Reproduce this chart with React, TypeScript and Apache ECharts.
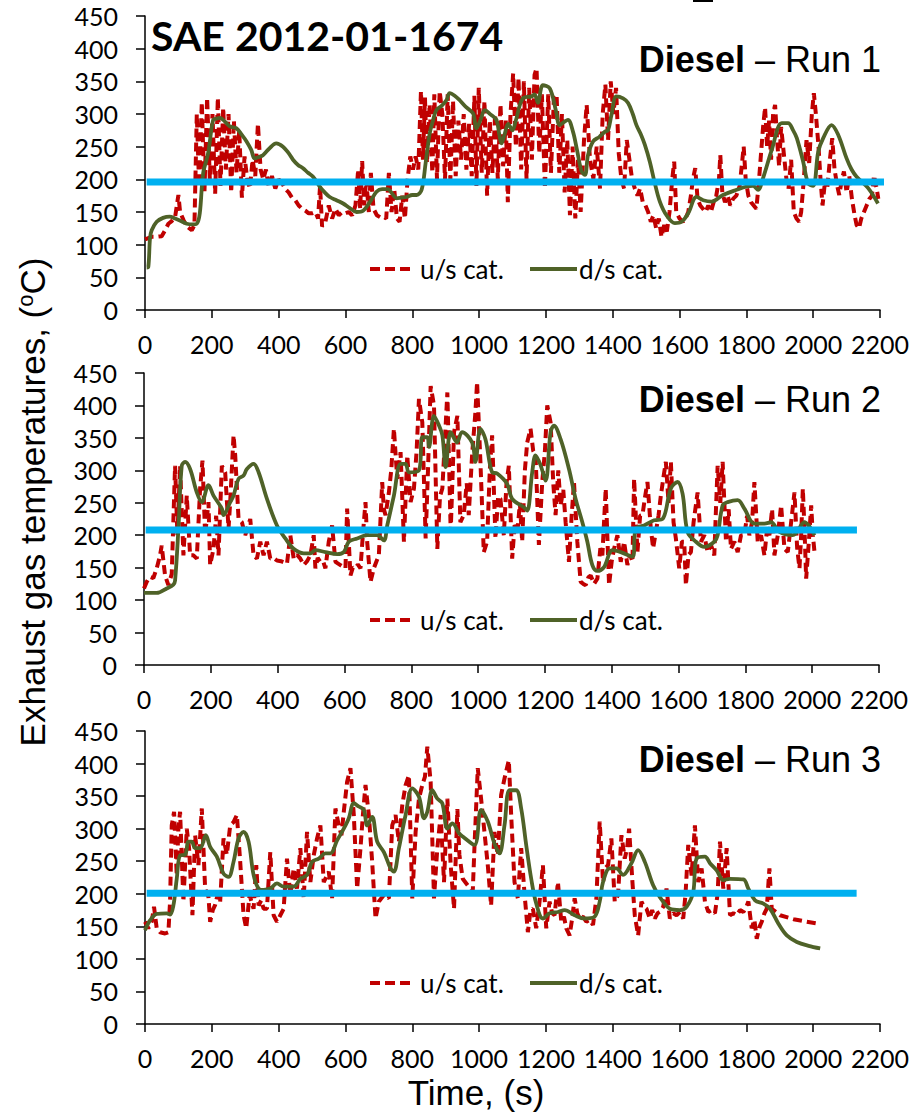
import React, { useEffect, useRef } from "react";
import * as echarts from "echarts";

// ---------- data (time s, temperature °C) ----------
const run1Upstream: [number, number][] = [[0,108],[10,110],[20,112],[35,112],[50,113],[60,122],[70,132],[80,136],[90,142],[100,176],[105,150],[115,138],[125,128],[140,122],[148,130],[155,300],[162,190],[170,318],[178,182],[186,325],[194,200],[202,300],[210,178],[218,325],[226,190],[234,310],[242,215],[250,300],[258,180],[266,290],[274,210],[282,275],[290,172],[298,235],[306,200],[314,186],[322,230],[330,205],[338,285],[346,215],[354,200],[362,215],[370,190],[380,205],[390,186],[400,200],[410,195],[420,185],[430,180],[440,172],[450,168],[460,160],[470,155],[480,152],[490,148],[500,148],[510,150],[518,140],[524,190],[530,128],[540,135],[550,160],[560,140],[570,155],[580,145],[590,150],[600,148],[610,150],[620,145],[630,160],[638,215],[644,155],[650,228],[656,160],[662,200],[670,150],[676,210],[684,155],[694,145],[704,142],[714,143],[722,140],[730,210],[738,150],[746,185],[754,140],[762,135],[770,175],[778,140],[786,200],[794,235],[802,215],[810,235],[818,215],[826,335],[832,230],[838,325],[844,225],[852,315],[860,210],[866,330],[874,200],[882,335],[890,300],[898,200],[906,330],[914,199],[922,320],[930,205],[938,290],[946,230],[954,300],[962,215],[970,285],[978,205],[986,328],[992,190],[999,340],[1008,210],[1016,320],[1024,175],[1032,290],[1040,210],[1048,300],[1056,200],[1064,315],[1072,220],[1080,290],[1086,165],[1094,300],[1102,362],[1110,250],[1118,355],[1126,215],[1134,350],[1142,200],[1150,340],[1158,230],[1166,360],[1172,370],[1180,240],[1188,330],[1197,186],[1207,330],[1215,210],[1224,325],[1232,330],[1240,210],[1248,300],[1256,180],[1264,260],[1272,145],[1280,250],[1288,140],[1296,230],[1304,150],[1314,260],[1322,314],[1332,230],[1342,201],[1352,250],[1362,186],[1370,300],[1378,345],[1386,260],[1394,350],[1402,300],[1410,340],[1418,240],[1426,200],[1434,186],[1442,260],[1450,230],[1458,200],[1466,186],[1474,175],[1482,186],[1490,165],[1498,160],[1506,150],[1514,135],[1522,145],[1530,125],[1538,140],[1546,112],[1554,130],[1562,120],[1570,150],[1578,200],[1584,227],[1590,150],[1600,140],[1610,135],[1618,140],[1626,150],[1634,175],[1640,200],[1647,217],[1654,170],[1662,160],[1670,155],[1678,150],[1686,160],[1694,150],[1702,165],[1710,175],[1718,200],[1722,237],[1728,180],[1736,165],[1744,175],[1752,160],[1760,170],[1770,175],[1780,190],[1788,230],[1792,250],[1798,200],[1806,175],[1814,165],[1822,160],[1830,155],[1838,200],[1844,240],[1850,280],[1856,310],[1862,250],[1868,290],[1874,230],[1880,300],[1886,314],[1892,260],[1898,220],[1904,280],[1912,240],[1920,200],[1926,185],[1934,230],[1942,150],[1950,140],[1958,135],[1964,150],[1972,200],[1980,260],[1988,225],[1996,300],[2002,332],[2008,300],[2016,250],[2022,200],[2028,160],[2034,190],[2042,186],[2050,230],[2057,263],[2064,215],[2072,190],[2078,176],[2086,200],[2092,212],[2100,180],[2108,205],[2116,170],[2124,145],[2130,130],[2137,125],[2144,140],[2152,150],[2160,160],[2168,170],[2176,175],[2182,206],[2190,186],[2195,170]];

const run1Downstream: [number, number][] = [[5,65],[10,66],[15,110],[20,122],[35,135],[54,141],[74,143],[90,140],[109,136],[125,132],[143,131],[155,132],[164,148],[174,209],[189,240],[204,291],[214,293],[224,294],[234,291],[254,281],[274,278],[290,268],[304,258],[318,245],[328,232],[340,234],[353,237],[370,246],[393,255],[413,250],[430,240],[443,230],[458,222],[473,217],[488,210],[503,204],[523,189],[538,180],[553,173],[573,168],[593,163],[613,156],[633,150],[653,152],[673,165],[693,181],[710,185],[727,185],[740,178],[753,171],[768,172],[783,173],[800,176],[813,176],[828,184],[840,225],[852,270],[862,290],[872,306],[887,312],[902,321],[912,332],[927,328],[942,321],[962,310],[982,301],[992,278],[1005,292],[1017,306],[1035,299],[1052,291],[1060,270],[1067,255],[1077,270],[1087,285],[1100,275],[1110,290],[1131,324],[1157,327],[1166,330],[1176,317],[1191,344],[1212,339],[1230,305],[1241,283],[1255,288],[1266,291],[1281,273],[1293,245],[1307,212],[1317,207],[1326,237],[1341,258],[1360,265],[1377,273],[1386,275],[1396,298],[1411,327],[1431,324],[1446,317],[1460,300],[1471,283],[1485,268],[1496,253],[1511,227],[1526,194],[1541,166],[1561,145],[1586,133],[1606,135],[1626,148],[1651,173],[1671,168],[1696,166],[1730,176],[1771,184],[1801,189],[1820,190],[1835,184],[1850,202],[1876,245],[1906,286],[1925,286],[1940,275],[1951,263],[1970,227],[1985,194],[2000,190],[2015,242],[2030,263],[2055,283],[2075,268],[2100,232],[2115,215],[2130,204],[2164,187],[2194,163]];

const run2Upstream: [number, number][] = [[0,118],[8,128],[18,136],[28,134],[38,149],[48,169],[53,184],[63,138],[73,123],[83,140],[93,307],[100,200],[108,307],[118,169],[128,261],[138,169],[148,169],[158,164],[168,272],[175,315],[183,200],[193,251],[198,154],[208,179],[216,230],[223,169],[233,307],[243,297],[253,210],[258,251],[268,354],[273,323],[283,225],[293,220],[303,200],[318,225],[328,169],[338,164],[348,190],[358,169],[368,190],[378,164],[388,165],[398,161],[410,160],[420,158],[428,156],[438,200],[448,164],[458,170],[468,164],[478,154],[488,160],[498,169],[508,200],[513,149],[520,165],[528,159],[536,160],[543,149],[553,190],[563,215],[573,159],[588,154],[603,149],[608,241],[618,138],[625,150],[633,149],[640,155],[648,149],[655,200],[663,251],[668,190],[678,128],[688,149],[696,160],[703,169],[713,282],[718,240],[723,231],[733,266],[740,300],[748,364],[758,287],[768,328],[778,190],[788,323],[798,251],[808,272],[816,330],[823,410],[833,374],[843,195],[850,300],[858,430],[868,400],[878,179],[886,260],[893,272],[900,340],[908,420],[918,205],[928,359],[938,384],[947,220],[957,231],[966,280],[972,231],[982,323],[992,390],[997,436],[1007,313],[1017,174],[1027,190],[1035,300],[1042,354],[1052,195],[1060,260],[1067,256],[1077,200],[1085,280],[1092,307],[1102,164],[1110,220],[1117,200],[1125,250],[1132,190],[1140,300],[1147,343],[1157,364],[1165,330],[1172,323],[1182,185],[1192,282],[1200,330],[1207,400],[1217,374],[1225,280],[1232,231],[1240,300],[1247,246],[1255,270],[1262,220],[1272,159],[1280,230],[1287,282],[1297,190],[1307,128],[1315,125],[1322,123],[1330,135],[1337,138],[1347,125],[1357,133],[1366,180],[1372,169],[1382,272],[1392,123],[1400,160],[1407,179],[1417,200],[1427,159],[1437,190],[1447,154],[1455,170],[1462,159],[1467,287],[1477,174],[1485,230],[1492,231],[1500,260],[1507,282],[1517,210],[1524,180],[1532,205],[1540,230],[1547,261],[1555,290],[1562,313],[1570,250],[1577,313],[1585,220],[1592,195],[1602,149],[1610,190],[1617,190],[1622,123],[1630,170],[1637,174],[1645,220],[1657,266],[1667,190],[1677,200],[1687,174],[1697,185],[1707,169],[1712,240],[1717,307],[1725,250],[1732,313],[1742,190],[1750,240],[1757,179],[1767,190],[1777,174],[1787,200],[1797,200],[1805,230],[1812,200],[1820,220],[1827,282],[1837,190],[1847,200],[1857,169],[1865,210],[1872,200],[1880,240],[1887,169],[1897,200],[1907,246],[1917,179],[1927,174],[1937,220],[1947,266],[1955,180],[1962,149],[1967,200],[1972,272],[1977,210],[1982,133],[1990,190],[1997,246],[2002,200],[2007,174]];

const run2Downstream: [number, number][] = [[0,111],[38,111],[68,118],[88,124],[93,130],[103,210],[113,307],[123,313],[138,302],[158,266],[173,251],[193,277],[208,261],[233,241],[238,231],[258,251],[268,261],[283,287],[298,292],[308,302],[328,310],[343,297],[368,256],[398,215],[423,195],[448,179],[478,172],[498,172],[513,177],[543,174],[578,171],[598,174],[613,190],[638,195],[668,200],[698,200],[718,192],[728,215],[748,261],[768,310],[783,310],[793,297],[823,300],[833,351],[848,351],[853,336],[868,384],[883,369],[893,354],[903,305],[918,359],[937,343],[952,359],[982,343],[992,313],[1007,364],[1022,348],[1042,297],[1057,295],[1087,279],[1102,256],[1137,243],[1147,238],[1162,297],[1172,323],[1187,308],[1202,284],[1217,359],[1227,369],[1247,348],[1272,302],[1292,256],[1312,220],[1327,190],[1342,154],[1357,145],[1377,151],[1402,177],[1427,174],[1462,167],[1472,210],[1497,215],[1527,223],[1552,225],[1577,272],[1597,282],[1612,264],[1627,205],[1652,190],[1677,182],[1707,190],[1717,200],[1732,246],[1747,251],[1777,254],[1797,241],[1827,218],[1857,218],[1877,220],[1902,205],[1942,200],[1977,220],[2007,200]];

const run3Upstream: [number, number][] = [[0,157],[10,147],[20,157],[27,180],[35,147],[45,141],[60,139],[70,141],[75,188],[80,305],[87,326],[95,228],[100,300],[105,326],[115,188],[125,300],[132,270],[142,167],[150,290],[160,244],[170,331],[180,208],[190,195],[195,157],[203,175],[210,183],[218,200],[225,188],[235,285],[245,260],[255,305],[265,310],[275,321],[285,249],[295,167],[303,147],[313,198],[325,177],[333,244],[340,182],[348,190],[355,177],[365,177],[375,264],[385,167],[395,157],[405,167],[415,177],[425,254],[435,198],[445,239],[455,208],[465,270],[475,193],[485,295],[495,218],[505,259],[515,285],[525,305],[535,218],[550,234],[560,193],[570,331],[580,305],[588,290],[595,326],[605,372],[615,393],[625,321],[635,208],[645,270],[652,320],[660,367],[670,321],[680,249],[690,162],[700,188],[715,198],[730,193],[740,305],[750,321],[760,280],[770,336],[780,367],[790,382],[800,193],[810,295],[820,346],[830,367],[838,380],[845,426],[855,372],[865,193],[875,270],[885,321],[895,218],[905,346],[915,244],[925,177],[935,330],[941,260],[951,223],[966,213],[981,203],[986,270],[996,393],[1006,346],[1016,295],[1026,244],[1036,182],[1046,295],[1056,259],[1066,352],[1076,377],[1089,405],[1096,321],[1106,218],[1116,193],[1126,270],[1136,200],[1146,141],[1154,175],[1161,177],[1171,147],[1181,188],[1191,244],[1201,147],[1211,188],[1219,170],[1226,167],[1236,218],[1246,157],[1254,165],[1261,147],[1271,136],[1278,160],[1286,193],[1294,170],[1301,162],[1311,165],[1321,157],[1331,160],[1341,152],[1351,193],[1361,311],[1371,218],[1379,240],[1386,244],[1396,285],[1406,188],[1416,198],[1426,290],[1436,254],[1443,270],[1449,300],[1459,218],[1466,167],[1476,136],[1486,188],[1494,180],[1501,177],[1511,162],[1518,175],[1526,162],[1534,170],[1541,172],[1551,180],[1561,208],[1571,162],[1581,170],[1591,167],[1601,172],[1611,162],[1618,200],[1626,275],[1636,228],[1646,305],[1656,218],[1666,239],[1676,188],[1686,172],[1696,175],[1706,170],[1714,200],[1721,280],[1731,208],[1741,270],[1751,167],[1761,170],[1771,167],[1781,175],[1791,172],[1800,180],[1806,188],[1816,147],[1824,160],[1831,131],[1840,150],[1846,157],[1854,170],[1861,177],[1869,239],[1876,177],[1901,167],[1941,161],[1981,157],[2016,154]];

const run3Downstream: [number, number][] = [[0,144],[15,159],[35,169],[65,170],[75,168],[85,182],[95,223],[105,259],[120,260],[130,280],[140,280],[150,270],[165,270],[182,290],[195,272],[215,257],[235,231],[250,226],[265,249],[280,285],[295,295],[310,280],[325,229],[340,208],[355,206],[375,208],[395,216],[415,211],[445,211],[465,223],[485,229],[500,249],[520,254],[540,262],[555,262],[575,282],[595,300],[610,316],[625,339],[640,334],[655,329],[665,305],[680,318],[695,280],[715,264],[735,239],[745,234],[760,270],[780,321],[800,362],[820,349],[835,316],[845,326],[860,359],[875,346],[890,339],[905,300],[920,308],[940,293],[951,288],[986,275],[1006,329],[1026,311],[1046,277],[1061,262],[1076,305],[1091,359],[1111,359],[1126,331],[1141,275],[1156,223],[1171,185],[1191,162],[1211,170],[1236,172],[1256,175],[1286,167],[1316,162],[1346,165],[1361,188],[1371,218],[1391,239],[1411,239],[1431,229],[1456,247],[1476,267],[1496,249],[1521,213],[1541,195],[1571,177],[1601,175],[1621,180],[1641,203],[1651,254],[1676,257],[1691,247],[1711,236],[1731,221],[1751,223],[1791,222],[1806,208],[1826,190],[1851,185],[1871,177],[1896,154],[1921,136],[1951,126],[1986,120],[2021,116]];

// threshold bars: start time, end time, level
const thresholdStart = [5, 5, 5];
const thresholdEnd = [2266, 2134, 2130];
const thresholdLevel = [196, 208, 201];

const runNames = ["Run 1", "Run 2", "Run 3"];
const legendNames = ["u/s cat.", "d/s cat."];
const xMin = 0, xMax = 2200, xStep = 200;
const yMin = 0, yMax = 450, yStep = 50;

const upstream = [run1Upstream, run2Upstream, run3Upstream];
const downstream = [run1Downstream, run2Downstream, run3Downstream];

// ---------- layout ----------
const grids = [
  { left: 145, top: 16, width: 735, height: 294 },
  { left: 144, top: 373, width: 735, height: 292 },
  { left: 145, top: 731, width: 735, height: 293 },
];
const legendY = [269, 620, 983];
const runLabelY = [70, 410, 770];

const RED = "#C00000";
const GREEN = "#4F6228";
const BLUE = "#00B0F0";
const TICK_FONT = "Lato";
const ARIAL = "'Liberation Sans', Arial, sans-serif";

export default function App() {
  const ref = useRef<HTMLDivElement>(null);
  useEffect(() => {
    if (!ref.current) return;
    const chart = echarts.init(ref.current, null, { renderer: "svg" });

    const xAxes = grids.map((_, i) => ({
      type: "value",
      gridIndex: i,
      min: xMin,
      max: xMax,
      interval: xStep,
      axisLine: { show: true, onZero: false, lineStyle: { color: "#000", width: 1.5 } },
      axisTick: { show: true, length: 8, lineStyle: { color: "#000", width: 1.5 } },
      axisLabel: {
        color: "#000",
        fontFamily: TICK_FONT,
        fontSize: 25,
        margin: 21,
        formatter: (v: number) => String(v),
      },
      splitLine: { show: false },
    }));
    const yAxes = grids.map((_, i) => ({
      type: "value",
      gridIndex: i,
      min: yMin,
      max: yMax,
      interval: yStep,
      axisLine: { show: true, onZero: false, lineStyle: { color: "#000", width: 1.5 } },
      axisTick: { show: true, length: 9, lineStyle: { color: "#000", width: 1.5 } },
      axisLabel: {
        color: "#000",
        fontFamily: TICK_FONT,
        fontSize: 25,
        margin: 27,
        formatter: (v: number) => String(v),
      },
      splitLine: { show: false },
    }));

    const series: any[] = [];
    grids.forEach((_, i) => {
      series.push({
        type: "line",
        name: legendNames[0],
        xAxisIndex: i,
        yAxisIndex: i,
        data: upstream[i],
        symbol: "none",
        showSymbol: false,
        lineStyle: { color: RED, width: 4, type: [9, 5] },
        itemStyle: { color: RED },
        z: 2,
      });
      series.push({
        type: "line",
        name: legendNames[1],
        xAxisIndex: i,
        yAxisIndex: i,
        data: downstream[i],
        symbol: "none",
        showSymbol: false,
        smooth: 0.35,
        lineStyle: { color: GREEN, width: 3.8 },
        itemStyle: { color: GREEN },
        z: 3,
      });
      series.push({
        type: "line",
        name: "threshold",
        xAxisIndex: i,
        yAxisIndex: i,
        data: [
          [thresholdStart[i], thresholdLevel[i]],
          [thresholdEnd[i], thresholdLevel[i]],
        ],
        symbol: "none",
        showSymbol: false,
        clip: false,
        lineStyle: { color: BLUE, width: 7, cap: "butt" },
        itemStyle: { color: BLUE },
        z: 4,
      });
    });

    const graphic: any[] = [
      {
        type: "text",
        x: 151,
        y: 56,
        style: {
          text: "SAE 2012-01-1674",
          fill: "#000",
          font: `bold 41px ${TICK_FONT}`,
          align: "left",
          verticalAlign: "bottom",
        },
      },
      {
        type: "rect",
        shape: { x: 693, y: 0, width: 20, height: 2 },
        style: { fill: "#000" },
      },
      {
        type: "text",
        x: 32,
        y: 502,
        rotation: Math.PI / 2,
        style: {
          text: "Exhaust gas temperatures, ({sup|o}C)",
          fill: "#000",
          fontFamily: ARIAL,
          fontSize: 35,
          align: "center",
          verticalAlign: "middle",
          rich: {
            sup: { fontSize: 22, fontFamily: ARIAL, fill: "#000", verticalAlign: "top", padding: [0, 0, 14, 0] },
          },
        },
      },
      {
        type: "text",
        x: 476,
        y: 1110,
        style: {
          text: "Time, (s)",
          fill: "#000",
          fontFamily: ARIAL,
          fontSize: 35,
          align: "center",
          verticalAlign: "bottom",
        },
      },
    ];
    runNames.forEach((r, i) => {
      graphic.push({
        type: "text",
        x: 881,
        y: runLabelY[i] + 7,
        style: {
          text: `{b|Diesel} – ${r}`,
          fill: "#000",
          fontFamily: ARIAL,
          fontSize: 36,
          align: "right",
          verticalAlign: "bottom",
          rich: {
            b: { fontFamily: ARIAL, fontSize: 36, fontWeight: "bold", fill: "#000" },
          },
        },
      });
      // legend
      const ly = legendY[i];
      graphic.push(
        {
          type: "line",
          shape: { x1: 370, y1: ly, x2: 411, y2: ly },
          style: { stroke: RED, lineWidth: 4, lineDash: [10, 5] },
        },
        {
          type: "text",
          x: 420,
          y: ly,
          style: {
            text: legendNames[0],
            fill: "#000",
            font: `26px ${TICK_FONT}`,
            align: "left",
            verticalAlign: "middle",
          },
        },
        {
          type: "line",
          shape: { x1: 530, y1: ly, x2: 577, y2: ly },
          style: { stroke: GREEN, lineWidth: 4 },
        },
        {
          type: "text",
          x: 579,
          y: ly,
          style: {
            text: legendNames[1],
            fill: "#000",
            font: `26px ${TICK_FONT}`,
            align: "left",
            verticalAlign: "middle",
          },
        }
      );
    });

    chart.setOption({
      animation: false,
      backgroundColor: "#fff",
      grid: grids.map((g) => ({ ...g, containLabel: false })),
      xAxis: xAxes,
      yAxis: yAxes,
      series,
      graphic,
    });
    return () => chart.dispose();
  }, []);

  return (
    <div
      ref={ref}
      style={{ position: "absolute", left: 0, top: 0, width: 914, height: 1116, background: "#fff" }}
    />
  );
}
